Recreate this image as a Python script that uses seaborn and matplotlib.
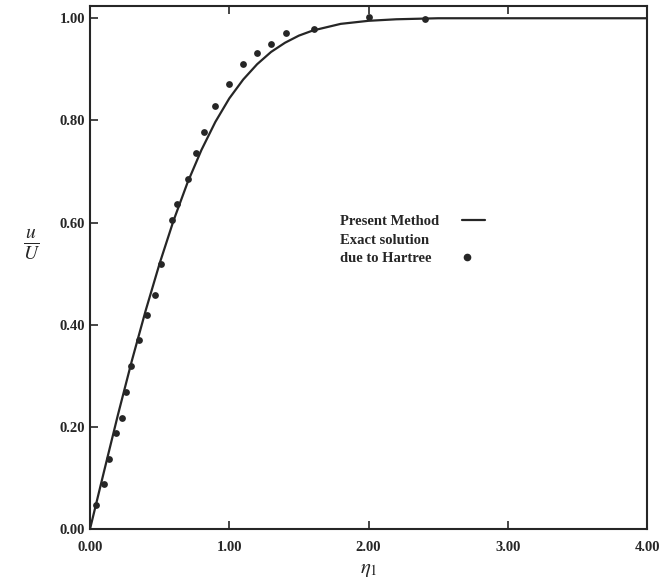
import numpy as np
import pandas as pd
import matplotlib
matplotlib.use('Agg')
import matplotlib.pyplot as plt
from matplotlib.lines import Line2D
import seaborn as sns

# present method (solid curve)
eta_curve = [0.0, 0.1, 0.2, 0.3, 0.4, 0.5, 0.6, 0.7, 0.8, 0.9, 1.0, 1.1, 1.2,
             1.3, 1.4, 1.5, 1.6, 1.8, 2.0, 2.2, 2.5, 3.0, 3.5, 4.0]
u_curve = [0.0, 0.112, 0.223, 0.329, 0.428, 0.520, 0.604, 0.678, 0.742, 0.797,
           0.843, 0.880, 0.910, 0.934, 0.952, 0.966, 0.976, 0.989, 0.995, 0.998,
           1.0, 1.0, 1.0, 1.0]

# exact solution due to Hartree (dots)
eta_exact = [0.041, 0.101, 0.134, 0.189, 0.230, 0.261, 0.294, 0.354, 0.411, 0.465,
             0.508, 0.591, 0.623, 0.702, 0.761, 0.821, 0.898, 0.998, 1.099, 1.201,
             1.300, 1.405, 1.609, 2.006, 2.406]
u_exact = [0.046, 0.088, 0.137, 0.187, 0.217, 0.268, 0.320, 0.370, 0.419, 0.459,
           0.518, 0.605, 0.636, 0.686, 0.736, 0.777, 0.829, 0.871, 0.911, 0.932,
           0.950, 0.971, 0.979, 1.002, 0.999]

x_ticks = [0, 1, 2, 3, 4]
y_ticks = [0, 0.2, 0.4, 0.6, 0.8, 1.0]
legend_labels = ['Present Method', 'Exact solution', 'due to Hartree']

sns.set_style('ticks')
plt.rcParams['font.family'] = ['Liberation Serif', 'DejaVu Serif']
plt.rcParams['mathtext.fontset'] = 'stix'

ink = '#262626'
fig = plt.figure(figsize=(6.59, 5.82), dpi=100)
ax = fig.add_axes([0.1366, 0.0911, 0.8452, 0.8986])

curve = pd.DataFrame({'eta': eta_curve, 'u': u_curve})
exact = pd.DataFrame({'eta': eta_exact, 'u': u_exact})

sns.lineplot(data=curve, x='eta', y='u', ax=ax, color=ink, lw=1.6, legend=False)
sns.scatterplot(data=exact, x='eta', y='u', ax=ax, color=ink, s=24,
                edgecolor=ink, linewidth=0, legend=False)

ax.set_xlim(0, 4)
ax.set_ylim(0, 1.024)
ax.set_xticks(x_ticks)
ax.set_yticks(y_ticks)
ax.set_xticklabels(['%.2f' % v for v in x_ticks])
ax.set_yticklabels(['%.2f' % v for v in y_ticks])
ax.tick_params(direction='in', length=6, width=1.2, colors=ink, labelsize=10.5,
               top=True, right=False)
ax.tick_params(axis='x', pad=9)
for lab in ax.get_xticklabels() + ax.get_yticklabels():
    lab.set_fontweight('bold')
for sp in ax.spines.values():
    sp.set_linewidth(1.5)
    sp.set_color(ink)
    sp.set_visible(True)

ax.set_xlabel(r'$\eta_1$', fontsize=15, color=ink, labelpad=4)
ax.set_ylabel(r'$\frac{u}{U}$', fontsize=20, color=ink, rotation=0, labelpad=22)
ax.yaxis.set_label_coords(-0.105, 0.51)

# legend in parts: left-aligned text block, keys in a column to its right
blank = Line2D([], [], linestyle='none')
leg_opts = dict(loc='upper left', frameon=False, borderpad=0, borderaxespad=0,
                labelspacing=0.35, prop={'weight': 'bold', 'size': 10.5})
leg_text = ax.legend([blank] * 3, legend_labels, bbox_to_anchor=(0.449, 0.600),
                     handlelength=0, handletextpad=0, **leg_opts)
for t in leg_text.get_texts():
    t.set_color(ink)
ax.add_artist(leg_text)

line_key = Line2D([], [], color=ink, lw=1.6)
dot_key = Line2D([], [], linestyle='none', marker='o', markersize=4.5, color=ink)
leg_line = ax.legend([line_key, blank, blank], [' '] * 3,
                     bbox_to_anchor=(0.668, 0.600), handlelength=1.55,
                     handletextpad=0, **leg_opts)
ax.add_artist(leg_line)
ax.legend([blank, blank, dot_key], [' '] * 3, bbox_to_anchor=(0.669, 0.600),
          handlelength=0.6, handletextpad=0, **leg_opts)

fig.savefig('out.png', dpi=100)
